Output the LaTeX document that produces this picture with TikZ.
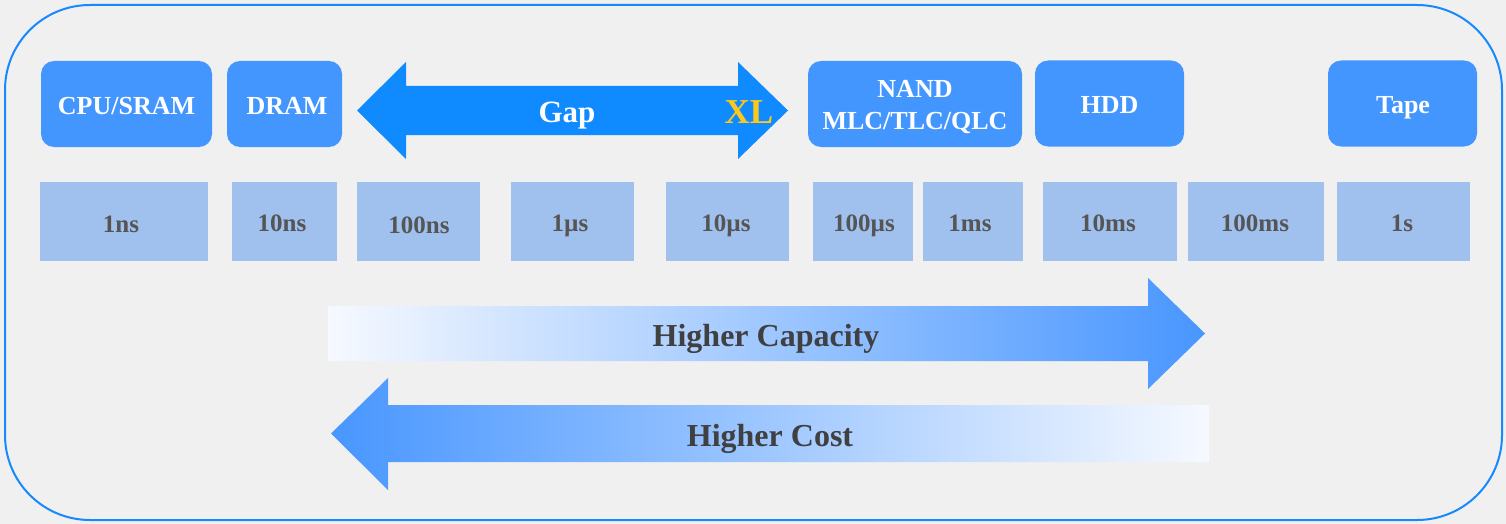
\documentclass[tikz,border=0pt]{standalone}
\usepackage{fontspec}
\setmainfont{Liberation Serif}
\definecolor{bg}{RGB}{240,240,240}
\definecolor{framecol}{RGB}{22,137,255}
\definecolor{boxblue}{RGB}{68,150,255}
\definecolor{gapblue}{RGB}{16,138,255}
\definecolor{timeblue}{RGB}{160,192,238}
\definecolor{timetext}{RGB}{85,85,85}
\definecolor{captext}{RGB}{64,64,64}
\definecolor{xlyellow}{RGB}{250,200,30}
\definecolor{lightend}{RGB}{246,249,255}
\definecolor{midend}{RGB}{196,216,246}
\definecolor{deepend}{RGB}{72,150,255}
\begin{document}
\begin{tikzpicture}[x=1pt,y=-1pt,
  tech/.style={fill=boxblue, rounded corners=13pt, inner sep=0pt,
    minimum height=86pt},
  techtext/.style={text=white, font=\fontsize{26}{32}\selectfont\bfseries,
    inner sep=0pt, anchor=base},
  lat/.style={fill=timeblue, inner sep=0pt, minimum height=79pt},
  lattext/.style={text=timetext, font=\fontsize{25}{30}\selectfont\bfseries,
    inner sep=0pt, anchor=base},
  bigtext/.style={text=captext, font=\fontsize{32}{36}\selectfont\bfseries,
    inner sep=0pt, anchor=base},
]
\useasboundingbox (0,0) rectangle (1506,524);
\fill[bg] (0,0) rectangle (1506,524);
\draw[framecol, line width=2pt, rounded corners=85pt] (5,5) rectangle (1502,520);

% technology boxes
\node[tech, minimum width=171pt] (cpu) at (126.5,104) {};
\node[techtext] (cpul) at (126.5,115) {CPU/SRAM};
\node[tech, minimum width=115pt] (dram) at (284.5,104) {};
\node[techtext] (draml) at (287,115) {DRAM};
\node[tech, minimum width=214pt] (nand) at (915,104) {};
\node[techtext] (nandl1) at (915,98) {NAND};
\node[techtext] (nandl2) at (915,130) {MLC/TLC/QLC};
\node[tech, minimum width=149pt] (hdd) at (1109.5,103.5) {};
\node[techtext] (hddl) at (1109.5,113.5) {HDD};
\node[tech, minimum width=149pt] (tape) at (1402.5,103.5) {};
\node[techtext] (tapel) at (1403,113.5) {Tape};

% gap double arrow
\fill[gapblue] (357,110.5) -- (406,62) -- (406,86) -- (738,86) -- (738,62)
  -- (788,110.5) -- (738,159) -- (738,135) -- (406,135) -- (406,159) -- cycle;
\node[text=white, font=\fontsize{31}{36}\selectfont\bfseries, inner sep=0pt, anchor=base] (gap) at (567,122.5) {Gap};
\node[text=xlyellow, font=\fontsize{35}{40}\selectfont\bfseries, inner sep=0pt, anchor=base] (xl) at (749,124) {XL};

% latency boxes
\node[lat, minimum width=168pt] (t1) at (124,221.5) {};
\node[lattext] (t1l) at (121,232) {1ns};
\node[lat, minimum width=105pt] (t2) at (284.5,221.5) {};
\node[lattext] (t2l) at (282,231) {10ns};
\node[lat, minimum width=123pt] (t3) at (418.5,221.5) {};
\node[lattext] (t3l) at (419,233) {100ns};
\node[lat, minimum width=123pt] (t4) at (572.5,221.5) {};
\node[lattext] (t4l) at (570,231.5) {1µs};
\node[lat, minimum width=123pt] (t5) at (727.5,221.5) {};
\node[lattext] (t5l) at (726,231.5) {10µs};
\node[lat, minimum width=100pt] (t6) at (863,221.5) {};
\node[lattext] (t6l) at (864,231.5) {100µs};
\node[lat, minimum width=100pt] (t7) at (973,221.5) {};
\node[lattext] (t7l) at (970,231.5) {1ms};
\node[lat, minimum width=134pt] (t8) at (1110,221.5) {};
\node[lattext] (t8l) at (1108,231) {10ms};
\node[lat, minimum width=136pt] (t9) at (1256,221.5) {};
\node[lattext] (t9l) at (1255,231) {100ms};
\node[lat, minimum width=133pt] (t10) at (1403.5,221.5) {};
\node[lattext] (t10l) at (1402,231) {1s};

% capacity / cost arrows
\shade[left color=lightend, middle color=midend, right color=deepend]
  (328,306) -- (1148,306) -- (1148,278) -- (1205,333.5) -- (1148,389)
  -- (1148,361) -- (328,361) -- cycle;
\node[bigtext] (cap) at (766,346) {Higher Capacity};
\shade[left color=deepend, middle color=midend, right color=lightend]
  (331,433.5) -- (388,378) -- (388,405) -- (1209,405) -- (1209,462)
  -- (388,462) -- (388,490) -- cycle;
\node[bigtext] (cost) at (770,446) {Higher Cost};
\end{tikzpicture}
\end{document}
